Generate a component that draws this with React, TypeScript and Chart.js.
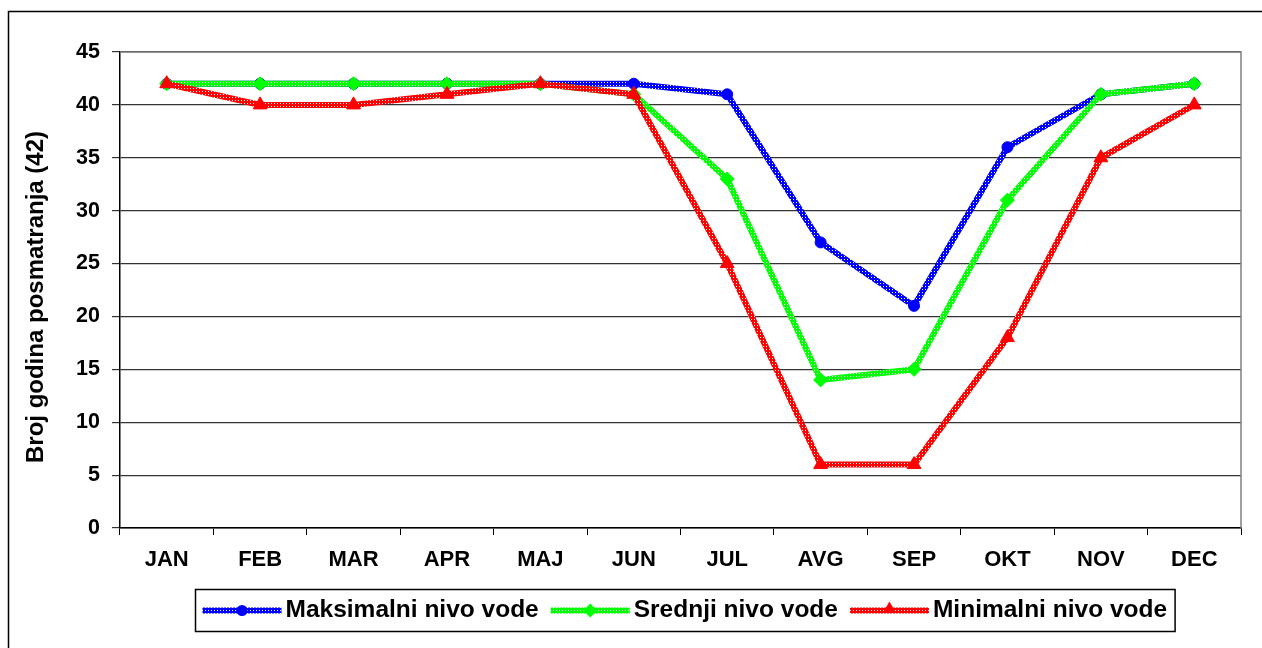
import React, { useEffect, useRef } from "react";
import { Chart, registerables } from "chart.js";

Chart.register(...registerables);

const months = ["JAN", "FEB", "MAR", "APR", "MAJ", "JUN", "JUL", "AVG", "SEP", "OKT", "NOV", "DEC"];
const maksimalni = [42, 42, 42, 42, 42, 42, 41, 27, 21, 36, 41, 42];
const srednji = [42, 42, 42, 42, 42, 41, 33, 14, 15, 31, 41, 42];
const minimalni = [42, 40, 40, 41, 42, 41, 25, 6, 6, 18, 35, 40];
const seriesNames = ["Maksimalni nivo vode", "Srednji nivo vode", "Minimalni nivo vode"];
const seriesColors = ["#0000ff", "#00ff00", "#ff0000"];
const seriesMarkers = ["circle", "rectRot", "triangle"];
const yMin = 0;
const yMax = 45;
const yStep = 5;
const yTitle = "Broj godina posmatranja (42)";

const FONT = '"Liberation Sans", Arial, sans-serif';

function makePattern(color: string): CanvasPattern | string {
  const c = document.createElement("canvas");
  c.width = 3;
  c.height = 3;
  const g = c.getContext("2d");
  if (!g) return color;
  g.fillStyle = color;
  g.fillRect(0, 0, 3, 3);
  g.fillStyle = "#ffffff";
  g.fillRect(1, 1, 1, 1);
  return g.createPattern(c, "repeat") || color;
}

function drawMarker(ctx: CanvasRenderingContext2D, kind: string, x: number, y: number, r: number, color: string) {
  ctx.save();
  ctx.fillStyle = color;
  ctx.beginPath();
  if (kind === "circle") {
    ctx.arc(x, y, r, 0, Math.PI * 2);
  } else if (kind === "rectRot") {
    ctx.moveTo(x, y - r);
    ctx.lineTo(x + r, y);
    ctx.lineTo(x, y + r);
    ctx.lineTo(x - r, y);
    ctx.closePath();
  } else {
    ctx.moveTo(x, y - r);
    ctx.lineTo(x + r * 0.87, y + r * 0.5);
    ctx.lineTo(x - r * 0.87, y + r * 0.5);
    ctx.closePath();
  }
  ctx.fill();
  ctx.restore();
}

export default function App() {
  const ref = useRef<HTMLCanvasElement | null>(null);

  useEffect(() => {
    if (!ref.current) return;
    const patterns = seriesColors.map((c) => makePattern(c));
    const seriesData = [maksimalni, srednji, minimalni];

    const framePlugin = {
      id: "frame",
      beforeDraw(chart: any) {
        const ctx = chart.ctx;
        ctx.save();
        ctx.fillStyle = "#fff";
        ctx.fillRect(0, 0, chart.width, chart.height);
        ctx.strokeStyle = "#000";
        ctx.lineWidth = 1.5;
        ctx.strokeRect(8.5, 11.5, chart.width + 20, chart.height + 20);
        // y axis title
        ctx.translate(36, 297);
        ctx.rotate(-Math.PI / 2);
        ctx.font = `bold 24px ${FONT}`;
        ctx.fillStyle = "#000";
        ctx.textAlign = "center";
        ctx.textBaseline = "middle";
        ctx.fillText(yTitle, 0, 0);
        ctx.restore();
      },
      beforeDatasetsDraw(chart: any) {
        const ctx = chart.ctx;
        const a = chart.chartArea;
        ctx.save();
        ctx.strokeStyle = "#808080";
        ctx.lineWidth = 1.5;
        ctx.beginPath();
        ctx.moveTo(a.left, a.top);
        ctx.lineTo(a.right, a.top);
        ctx.lineTo(a.right, a.bottom);
        ctx.stroke();
        ctx.restore();
      },
      afterDraw(chart: any) {
        const ctx = chart.ctx;
        ctx.save();
        ctx.font = `bold 24.5px ${FONT}`;
        const sample = 79;
        const gapText = 4;
        const gapItem = 12;
        const padL = 7;
        const padR = 8;
        const widths = seriesNames.map((n) => ctx.measureText(n).width);
        let total = 0;
        widths.forEach((w, i) => {
          total += sample + gapText + w + (i < widths.length - 1 ? gapItem : 0);
        });
        const boxW = total + padL + padR;
        const cx = 684.5;
        const boxLeft = Math.round(cx - boxW / 2) + 0.5;
        const boxTop = 589.5;
        const boxH = 42;
        ctx.strokeStyle = "#000";
        ctx.lineWidth = 1.5;
        ctx.strokeRect(boxLeft, boxTop, boxW, boxH);
        const cy = boxTop + boxH / 2;
        let x = boxLeft + padL;
        seriesNames.forEach((n, i) => {
          ctx.strokeStyle = patterns[i] as any;
          ctx.lineWidth = 6;
          ctx.beginPath();
          ctx.moveTo(x, cy);
          ctx.lineTo(x + sample, cy);
          ctx.stroke();
          drawMarker(ctx, seriesMarkers[i], x + sample / 2, cy - (i === 2 ? 2 : 0), i === 0 ? 5.5 : 7, seriesColors[i]);
          ctx.fillStyle = "#000";
          ctx.textBaseline = "middle";
          ctx.textAlign = "left";
          ctx.fillText(n, x + sample + gapText, cy);
          x += sample + gapText + widths[i] + gapItem;
        });
        ctx.restore();
      },
    };

    const chart = new Chart(ref.current, {
      type: "line",
      data: {
        labels: months,
        datasets: seriesData.map((d, i) => ({
          label: seriesNames[i],
          data: d,
          borderColor: patterns[i] as any,
          backgroundColor: seriesColors[i],
          borderWidth: 6,
          pointStyle: seriesMarkers[i] as any,
          pointRadius: i === 0 ? 5.5 : i === 1 ? 7 : 8,
          pointBackgroundColor: seriesColors[i],
          pointBorderColor: seriesColors[i],
          pointBorderWidth: 1,
          tension: 0,
          order: 3 - i,
        })),
      },
      options: {
        responsive: false,
        animation: false,
        devicePixelRatio: 1,
        layout: { padding: { left: 0, top: 52, right: 21, bottom: 80 } },
        plugins: {
          legend: { display: false },
          tooltip: { enabled: false },
        },
        scales: {
          x: {
            offset: true,
            grid: {
              offset: true,
              drawOnChartArea: false,
              drawTicks: true,
              tickLength: 7,
              color: "#000",
            },
            border: { color: "#000", width: 1.5 },
            ticks: {
              color: "#000",
              font: { family: FONT, size: 22, weight: "bold" },
              padding: 12,
              maxRotation: 0,
              autoSkip: false,
            },
            afterFit(scale: any) {
              scale.height = 40;
            },
          },
          y: {
            min: yMin,
            max: yMax,
            ticks: {
              stepSize: yStep,
              color: "#000",
              font: { family: FONT, size: 21.5, weight: "bold" },
              padding: 12,
            },
            grid: {
              color: "#333",
              lineWidth: 1.2,
              tickLength: 8,
            },
            border: { color: "#000", width: 1.5 },
            title: { display: false },
            afterFit(scale: any) {
              scale.width = 120;
            },
          },
        },
      },
      plugins: [framePlugin],
    });
    return () => chart.destroy();
  }, []);

  return (
    <div style={{ position: "absolute", left: 0, top: 0, width: 1262, height: 648 }}>
      <canvas ref={ref} width={1262} height={648} />
    </div>
  );
}
